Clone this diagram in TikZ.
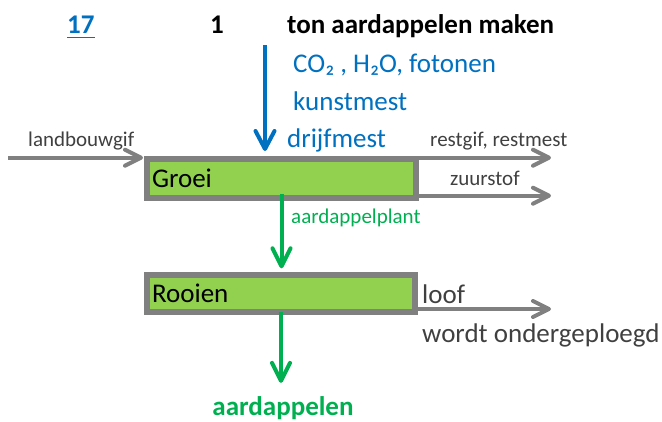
\documentclass[tikz,border=0pt]{standalone}
\usepackage{fontspec}
\setmainfont{Carlito}
\usetikzlibrary{arrows.meta}
\definecolor{flowblue}{HTML}{0070C0}
\definecolor{flowgreen}{HTML}{00B050}
\definecolor{boxgreen}{HTML}{92D050}
\definecolor{boxgray}{HTML}{808080}
\definecolor{labelgray}{HTML}{404040}

\begin{document}
\begin{tikzpicture}[x=1pt,y=-1pt,
  big/.style={font=\fontsize{27}{32}\selectfont},
  small/.style={font=\fontsize{21}{25}\selectfont},
  txt/.style={inner sep=0pt, anchor=base west},
  stage/.style={draw=boxgray, line width=6pt, fill=boxgreen, anchor=west,
    inner xsep=5pt, inner ysep=0pt, outer sep=0pt, align=left,
    text height=17.4pt, text depth=0pt, big},
  grayflow/.style={draw=boxgray, line width=4pt,
    -{Straight Barb[length=16pt,width=16pt,round]}},
  blueflow/.style={draw=flowblue, line width=4pt,
    -{Straight Barb[length=18pt,width=19pt,round]}},
  greenflow/.style={draw=flowgreen, line width=4pt,
    -{Straight Barb[length=18pt,width=18pt,round]}},
  graylabel/.style={txt, small, text=labelgray},
  bluelabel/.style={txt, big, text=flowblue}
]
\useasboundingbox (0,0) rectangle (662,421);

% heading
\node[txt, big, text=flowblue, font=\fontsize{27}{32}\selectfont\bfseries] (num) at (67,33) {17};
\draw[flowblue, line width=1.6pt] ([yshift=-4.5pt]num.base west) -- ([yshift=-4.5pt]num.base east);
\node[txt, font=\fontsize{27}{32}\selectfont\bfseries] (qty) at (210,33) {1};
\node[txt, font=\fontsize{27}{32}\selectfont\bfseries] (title) at (287,33) {ton aardappelen maken};

% process stages
\node[stage, minimum width=269pt, text width=259pt, minimum height=38.7pt] (groei) at (147,178.35) {Groei};
\node[stage, minimum width=268pt, text width=258pt, minimum height=37pt] (rooien) at (147,293.5) {Rooien};

% inputs from above
\node[bluelabel] (co2) at (293,72) {CO₂ , H₂O, fotonen};
\node[bluelabel] (kunst) at (293,110) {kunstmest};
\node[bluelabel] (drijf) at (287,147) {drijfmest};
\coordinate (inTop) at (265,45);
\draw[blueflow, shorten >=8pt] (inTop) -- (inTop |- groei.north);

% side flows
\coordinate (lbIn) at (8,157.7);
\coordinate (rgOut) at (551,157.7);
\coordinate (zsOut) at (551,195.7);
\coordinate (lfOut) at (551,309);
\draw[grayflow, shorten >=4pt] (lbIn) -- (lbIn -| groei.west);
\draw[grayflow] (rgOut -| groei.east) -- (rgOut);
\draw[grayflow] (zsOut -| groei.east) -- (zsOut);
\draw[grayflow] (lfOut -| rooien.east) -- (lfOut);

\node[graylabel] (lb) at (28,146) {landbouwgif};
\node[graylabel] (rg) at (430,146.7) {restgif, restmest};
\node[graylabel] (zs) at (450,185) {zuurstof};
\node[txt, big, text=labelgray] (loof) at (422,303) {loof};
\node[txt, big, text=labelgray] (onder) at (422,342) {wordt ondergeploegd};

% main product chain
\node[txt, small, text=flowgreen] (plant) at (291,223) {aardappelplant};
\node[inner sep=0pt, anchor=base, text=flowgreen, font=\fontsize{27}{32}\selectfont\bfseries] (harvest) at (283,415) {aardappelen};
\draw[greenflow, shorten <=-3.7pt, shorten >=6.7pt] (groei.south) -- (groei.south |- rooien.north);
\draw[greenflow, shorten >=13pt] (rooien.south) -- (rooien.south |- harvest.north);
\end{tikzpicture}
\end{document}
